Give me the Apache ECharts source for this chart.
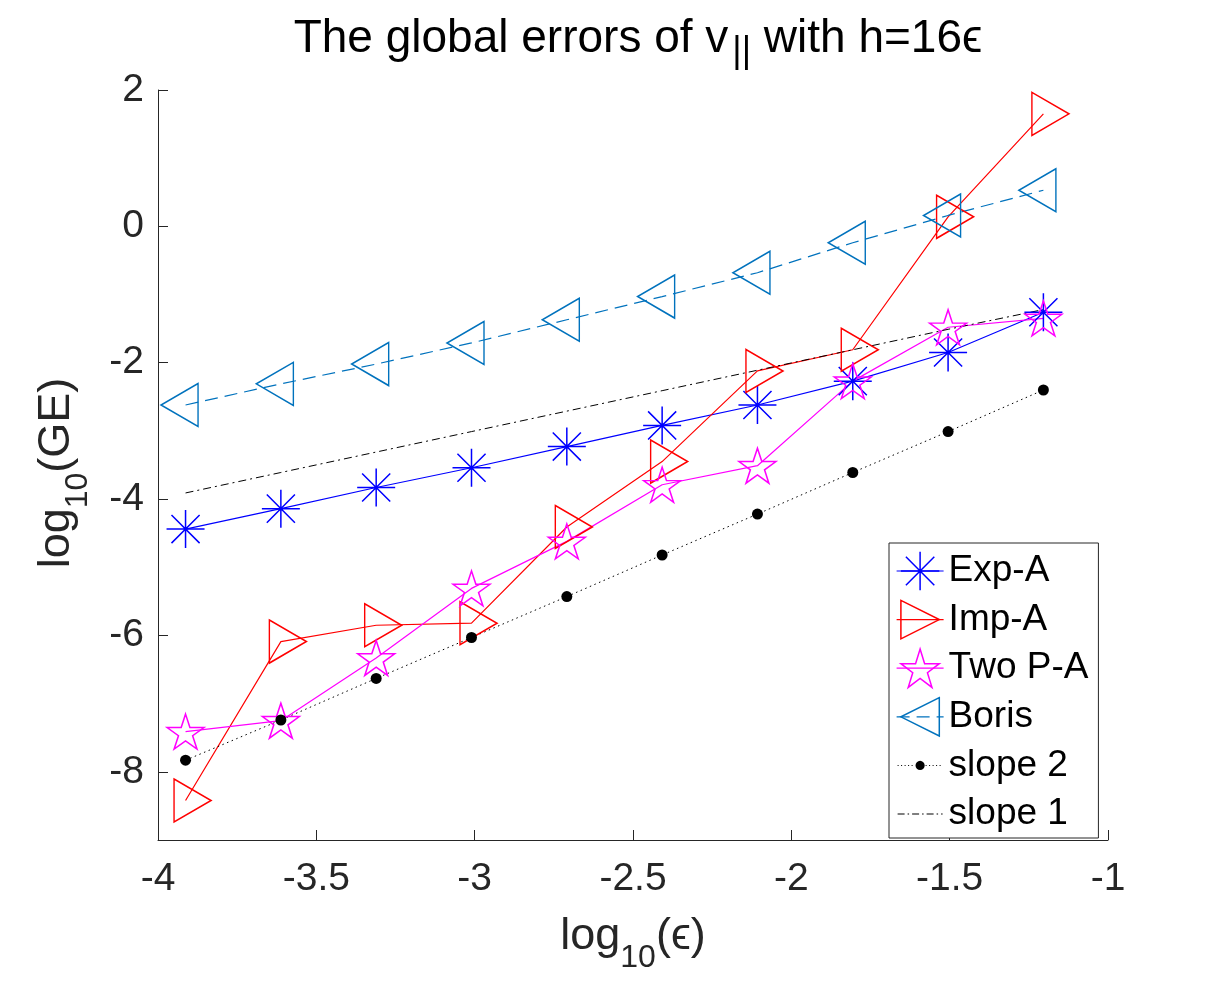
<!DOCTYPE html>
<html>
<head>
<meta charset="utf-8">
<script src="https://cdn.jsdelivr.net/npm/echarts@6/dist/echarts.min.js"></script>
<style>
  html, body { margin: 0; padding: 0; background: #fff; }
  #chart { width: 1223px; height: 988px; }
</style>
</head>
<body>
<div id="chart"></div>
<script>
// x values: log10(eps)
const logEps = [-3.913, -3.612, -3.311, -3.010, -2.709, -2.408, -2.107, -1.806, -1.505, -1.204];
// log10 of global errors
const expA = [-4.44, -4.14, -3.83, -3.54, -3.23, -2.92, -2.62, -2.27, -1.85, -1.26];
const impA = [-8.42, -6.09, -5.85, -5.82, -4.41, -3.45, -2.12, -1.81, 0.14, 1.65];
const twoPA = [-7.41, -7.25, -6.33, -5.31, -4.62, -3.79, -3.51, -2.27, -1.48, -1.35];
const boris = [-2.62, -2.31, -2.02, -1.71, -1.37, -1.03, -0.68, -0.24, 0.16, 0.53];
const slope2 = [-7.83, -7.24, -6.63, -6.03, -5.43, -4.82, -4.22, -3.61, -3.01, -2.40];
const slope1 = [-3.91, -3.61, -3.31, -3.01, -2.71, -2.41, -2.11, -1.81, -1.51, -1.22];
const seriesNames = ["Exp-A", "Imp-A", "Two P-A", "Boris", "slope 2", "slope 1"];
const yTicks = [-8, -6, -4, -2, 0, 2];

const font = "'Liberation Sans', Arial, Helvetica, sans-serif";
const axisColor = "#262626";

// marker shapes (matlab style)
const asterisk = "path://M0,-1L0,1M-1,0L1,0M-0.74,-0.74L0.74,0.74M-0.74,0.74L0.74,-0.74";
const triRight = "path://M0,0L1,0.5L0,1Z";
const triLeft = "path://M1,0L0,0.5L1,1Z";
const pentagram = "path://M0,-1L0.2245,-0.309L0.9511,-0.309L0.3633,0.118L0.5878,0.809L0,0.382L-0.5878,0.809L-0.3633,0.118L-0.9511,-0.309L-0.2245,-0.309Z";

// legend icons for the two reference lines (47 x 48 box)
function dotIcon() {
  let d = "M0,0M47,48";
  for (let x = 1; x < 46; x += 3.5) {
    if (x > 17 && x < 29) continue;
    d += "M" + x + ",23.5L" + (x + 1) + ",23.5L" + (x + 1) + ",24.5L" + x + ",24.5Z";
  }
  // filled dot in the middle
  for (let k = 0; k <= 16; k++) {
    const a = (k / 16) * Math.PI * 2;
    const px = (23.5 + 4.6 * Math.cos(a)).toFixed(2);
    const py = (24 + 4.6 * Math.sin(a)).toFixed(2);
    d += (k === 0 ? "M" : "L") + px + "," + py;
  }
  d += "Z";
  return "path://" + d;
}
function dashDotIcon() {
  let d = "M0,0M47,48";
  let x = 1;
  while (x < 46) {
    const e = Math.min(x + 7, 46);
    d += "M" + x + ",23.4L" + e + ",23.4L" + e + ",24.6L" + x + ",24.6Z";
    x = e + 3;
    if (x < 45) {
      d += "M" + x + ",23.4L" + (x + 1.5) + ",23.4L" + (x + 1.5) + ",24.6L" + x + ",24.6Z";
    }
    x += 4.5;
  }
  return "path://" + d;
}

function pairs(ys) {
  return logEps.map(function (x, i) { return [x, ys[i]]; });
}

const chart = echarts.init(document.getElementById("chart"), null, { renderer: "canvas" });

const subRich = {
  sub: { fontSize: 32, fontFamily: font, color: axisColor, padding: [42, 0, 0, 0] }
};

const option = {
  animation: false,
  backgroundColor: "#fff",
  textStyle: { fontFamily: font },
  title: {
    text: "The global errors of v{sub|||} with h=16\u03f5",
    left: 633,
    top: 3,
    textAlign: "center",
    textStyle: {
      fontFamily: font,
      fontSize: 46,
      fontWeight: "normal",
      color: "#000",
      rich: {
        sub: { fontSize: 36, fontFamily: font, color: "#000", padding: [26, 0, 0, 4] }
      }
    }
  },
  grid: { left: 158, right: 115, top: 90, bottom: 148, containLabel: false },
  xAxis: {
    type: "value",
    min: -4,
    max: -1,
    interval: 0.5,
    name: "log{sub|10}(\u03f5)",
    nameLocation: "middle",
    nameGap: 60,
    nameTextStyle: { fontSize: 45, color: axisColor, fontFamily: font, rich: subRich },
    axisLine: { show: true, onZero: false, lineStyle: { color: axisColor, width: 1 } },
    axisTick: { show: true, inside: true, length: 10, lineStyle: { color: axisColor } },
    axisLabel: { fontSize: 39, color: axisColor, fontFamily: font, margin: 20 },
    splitLine: { show: false }
  },
  yAxis: {
    type: "value",
    min: -9,
    max: 2,
    name: "log{sub|10}(GE)",
    nameLocation: "middle",
    nameRotate: 90,
    nameGap: 64,
    nameTextStyle: { fontSize: 45, color: axisColor, fontFamily: font, rich: subRich, padding: [0, 16, 0, 0] },
    axisLine: { show: true, onZero: false, lineStyle: { color: axisColor, width: 1 } },
    axisTick: { show: true, inside: true, length: 10, customValues: yTicks, lineStyle: { color: axisColor } },
    axisLabel: { fontSize: 39, color: axisColor, fontFamily: font, margin: 14, customValues: yTicks },
    splitLine: { show: false }
  },
  legend: {
    orient: "vertical",
    left: 889,
    top: 543,
    padding: [4, 10, 0, 7],
    itemWidth: 47,
    itemHeight: 48,
    itemGap: 0.6,
    backgroundColor: "#fff",
    borderColor: axisColor,
    borderWidth: 1,
    textStyle: { fontSize: 37, lineHeight: 48, color: "#000", fontFamily: font },
    itemStyle: { borderWidth: 1.5 },
    lineStyle: { width: 1.2 },
    selectedMode: false,
    data: [
      "Exp-A",
      "Imp-A",
      "Two P-A",
      "Boris",
      { name: "slope 2", icon: dotIcon(), itemStyle: { borderWidth: 0, color: "#000" } },
      { name: "slope 1", icon: dashDotIcon(), itemStyle: { borderWidth: 0, color: "#000" } }
    ]
  },
  series: [
    {
      name: seriesNames[0],
      type: "line",
      data: pairs(expA),
      symbol: asterisk,
      symbolSize: 38,
      itemStyle: { color: "rgba(0,0,0,0)", borderColor: "#0000ff", borderWidth: 1.5 },
      lineStyle: { color: "#0000ff", width: 1.2 }
    },
    {
      name: seriesNames[1],
      type: "line",
      data: pairs(impA),
      symbol: triRight,
      symbolSize: [37, 43],
      symbolOffset: [7, 0],
      itemStyle: { color: "rgba(0,0,0,0)", borderColor: "#ff0000", borderWidth: 1.5 },
      lineStyle: { color: "#ff0000", width: 1.2 }
    },
    {
      name: seriesNames[2],
      type: "line",
      data: pairs(twoPA),
      symbol: pentagram,
      symbolSize: [37, 35],
      itemStyle: { color: "rgba(0,0,0,0)", borderColor: "#ff00ff", borderWidth: 1.5 },
      lineStyle: { color: "#ff00ff", width: 1.2 }
    },
    {
      name: seriesNames[3],
      type: "line",
      data: pairs(boris),
      symbol: triLeft,
      symbolSize: [37, 43],
      symbolOffset: [-6, 0],
      itemStyle: { color: "rgba(0,0,0,0)", borderColor: "#0072bd", borderWidth: 1.5 },
      lineStyle: { color: "#0072bd", width: 1.2, type: [13, 7] }
    },
    {
      name: seriesNames[4],
      type: "line",
      data: pairs(slope2),
      symbol: "circle",
      symbolSize: 11,
      itemStyle: { color: "#000", borderWidth: 0 },
      lineStyle: { color: "#000", width: 1, type: [1.5, 3.5] }
    },
    {
      name: seriesNames[5],
      type: "line",
      data: pairs(slope1),
      symbol: "none",
      itemStyle: { color: "#000" },
      lineStyle: { color: "#000", width: 1, type: [8, 4, 2, 4] }
    }
  ]
};

chart.setOption(option);
</script>
</body>
</html>
